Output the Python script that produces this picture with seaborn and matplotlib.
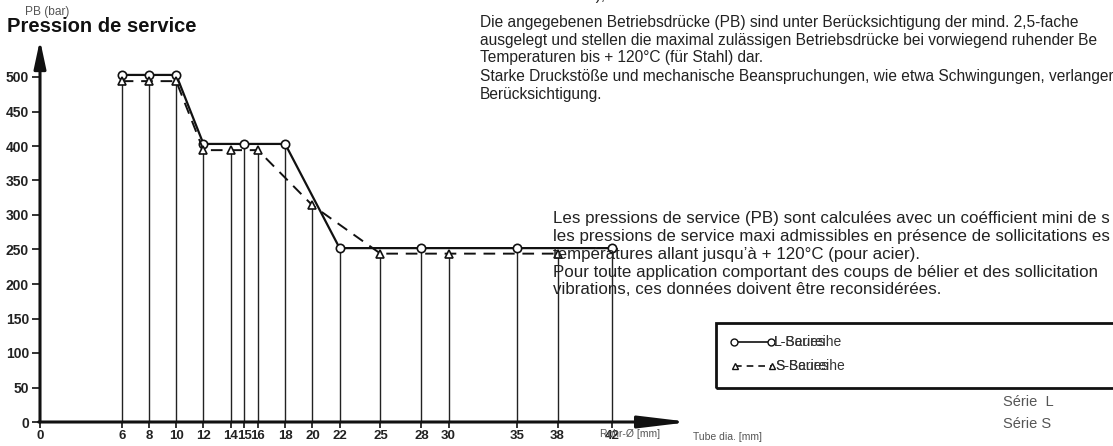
import matplotlib
matplotlib.use("Agg")
import matplotlib.pyplot as plt
import seaborn as sns
import pandas as pd
import numpy as np

# ---- data ----
l_dia = [6, 8, 10, 12, 15, 18, 22, 28, 35, 42]
l_pb = [503, 503, 503, 403, 403, 403, 252, 252, 252, 252]
s_dia = [6, 8, 10, 12, 14, 16, 20, 25, 30, 38]
s_pb = [494, 494, 494, 394, 394, 394, 314, 244, 244, 244]
x_ticks = [0, 6, 8, 10, 12, 14, 15, 16, 18, 20, 22, 25, 28, 30, 35, 38, 42]
y_ticks = [0, 50, 100, 150, 200, 250, 300, 350, 400, 450, 500]

sns.set_theme(style="white")
plt.rcParams['font.family'] = ['Liberation Sans', 'DejaVu Sans']

W, H = 1113, 446
fig = plt.figure(figsize=(W / 100, H / 100), dpi=100)

x0px, y0px = 40, 422
x1px, y1px = 690, 40
ax = fig.add_axes([x0px / W, 1 - y0px / H, (x1px - x0px) / W, (y0px - y1px) / H])
pxx = (612 - 40) / 42.0
pxy = (422 - 77) / 500.0
ax.set_xlim(0, (x1px - x0px) / pxx)
ax.set_ylim(0, (y0px - y1px) / pxy)
for s in ax.spines.values():
    s.set_visible(False)
ax.patch.set_alpha(0)

# vertical drop lines
tops = {}
for d, v in zip(l_dia, l_pb):
    tops[d] = max(tops.get(d, 0), v)
for d, v in zip(s_dia, s_pb):
    tops[d] = max(tops.get(d, 0), v)
xs = sorted(tops)
ax.vlines(xs, 0, [tops[x] for x in xs], color="#222222", lw=1.0, zorder=1)

dfL = pd.DataFrame({"d": l_dia, "pb": l_pb})
dfS = pd.DataFrame({"d": s_dia, "pb": s_pb})
sns.lineplot(data=dfL, x="d", y="pb", ax=ax, color="#111111", lw=1.6, marker="o",
             markersize=6, markerfacecolor="white", markeredgecolor="#111111",
             markeredgewidth=1.2, zorder=3)
sns.lineplot(data=dfS, x="d", y="pb", ax=ax, color="#111111", lw=1.4, marker="^",
             markersize=6, markerfacecolor="white", markeredgecolor="#111111",
             markeredgewidth=1.2, zorder=3, linestyle=(0, (6, 4)))
ax.set_xlabel("")
ax.set_ylabel("")

# axes arrows
ax.annotate("", xy=(0, 1.0), xytext=(0, 0), xycoords="axes fraction",
            arrowprops=dict(arrowstyle="-|>,head_width=0.3,head_length=1.4", color="#111111", lw=2.2,
                            shrinkA=0, shrinkB=0), annotation_clip=False)
ax.annotate("", xy=(1.0, 0), xytext=(-0.002, 0), xycoords="axes fraction",
            arrowprops=dict(arrowstyle="-|>,head_width=0.3,head_length=2.5", color="#111111", lw=2.2,
                            shrinkA=0, shrinkB=0), annotation_clip=False)

ax.set_xticks(x_ticks)
ax.set_xticklabels([str(v) for v in x_ticks], fontsize=9.5, fontweight="bold", color="#222222")
ax.set_yticks(y_ticks)
ax.set_yticklabels([str(v) for v in y_ticks], fontsize=10, fontweight="bold", color="#222222")
ax.tick_params(axis="x", direction="out", length=4, width=1.2, color="#111111", pad=2, bottom=True)
ax.tick_params(axis="y", direction="out", length=6, width=1.2, color="#111111", pad=2, left=True)

# titles / labels
fig.text(25 / W, 1 - 12 / H, "PB (bar)", fontsize=8.6, color="#555555", va="center", ha="left")
fig.text(7 / W, 1 - 26 / H, "Pression de service", fontsize=14.5, fontweight="bold", color="#111111",
         va="center", ha="left")
fig.text(600 / W, 1 - 434 / H, "Rohr-Ø [mm]", fontsize=7.5, color="#555555", va="center", ha="left")
fig.text(693 / W, 1 - 437 / H, "Tube dia. [mm]", fontsize=7.5, color="#555555", va="center", ha="left")

de_lines = [
    "Die angegebenen Betriebsdrücke (PB) sind unter Berücksichtigung der mind. 2,5-fache",
    "ausgelegt und stellen die maximal zulässigen Betriebsdrücke bei vorwiegend ruhender Be",
    "Temperaturen bis + 120°C (für Stahl) dar.",
    "Starke Druckstöße und mechanische Beanspruchungen, wie etwa Schwingungen, verlanger",
    "Berücksichtigung.",
]
for i, t in enumerate(de_lines):
    fig.text(480 / W, 1 - (22 + 18 * i) / H, t, fontsize=11.2, color="#222222", va="center", ha="left")
fig.text(560 / W, 1 - (-5) / H, "Stahl), such as vibrations.", fontsize=11.2, color="#222222",
         va="center", ha="left")

fr_lines = [
    "Les pressions de service (PB) sont calculées avec un coéfficient mini de s",
    "les pressions de service maxi admissibles en présence de sollicitations es",
    "températures allant jusqu’à + 120°C (pour acier).",
    "Pour toute application comportant des coups de bélier et des sollicitation",
    "vibrations, ces données doivent être reconsidérées.",
]
for i, t in enumerate(fr_lines):
    fig.text(553 / W, 1 - (218 + 18 * i) / H, t, fontsize=12.2, color="#222222", va="center", ha="left")

# legend box
from matplotlib.patches import Rectangle
from matplotlib.lines import Line2D
fig.add_artist(Rectangle((716 / W, 1 - 388 / H), (1120 - 716) / W, (388 - 323) / H,
                         transform=fig.transFigure, fill=False, lw=2, edgecolor="#111111",
                         clip_on=False))
fig.add_artist(Line2D([734 / W, 771 / W], [1 - 342 / H] * 2, transform=fig.transFigure,
                      color="#111111", lw=1.2, marker="o", markersize=5,
                      markerfacecolor="white", markeredgecolor="#111111"))
fig.add_artist(Line2D([735 / W, 772 / W], [1 - 366 / H] * 2, transform=fig.transFigure,
                      color="#111111", lw=1.2, marker="^", markersize=5, linestyle=(0, (4, 3)),
                      markerfacecolor="white", markeredgecolor="#111111"))
for lab in ["L-Baureihe", "L-Series"]:
    fig.text(774 / W, 1 - 342 / H, lab, fontsize=10, color="#333333", va="center", ha="left")
for lab in ["S-Baureihe", "S-Series"]:
    fig.text(775 / W, 1 - 366 / H, lab, fontsize=10, color="#333333", va="center", ha="left")

fig.text(1003 / W, 1 - 402 / H, "Série  L", fontsize=10.5, color="#555555", va="center", ha="left")
fig.text(1003 / W, 1 - 424 / H, "Série S", fontsize=10.5, color="#555555", va="center", ha="left")

fig.savefig("out.png", dpi=100)
